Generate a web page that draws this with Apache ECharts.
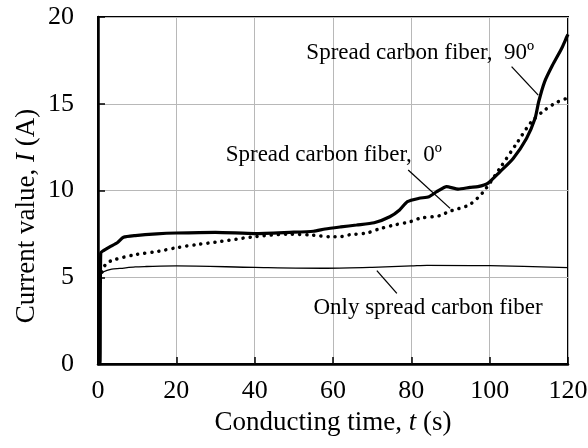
<!DOCTYPE html>
<html>
<head>
<meta charset="utf-8">
<script src="https://cdn.jsdelivr.net/npm/echarts@6/dist/echarts.min.js"></script>
<style>
html,body{margin:0;padding:0;background:#fff;}
#c{width:588px;height:448px;}
</style>
</head>
<body>
<div id="c"></div>
<script>
// ---- data ----
var xTicks = [0, 20, 40, 60, 80, 100, 120];
var yTicks = [0, 5, 10, 15, 20];

var t90 = [0, 0.5, 0.7, 1.5, 3, 5, 6.5, 9.5, 15, 20, 30, 40, 49, 55, 58, 62, 66, 70.5, 74.5, 77, 79, 82, 84.5, 86.5, 89, 92, 95, 97, 99.5, 102.5, 106, 109.4, 111.6, 112.5, 114, 116, 118.4, 119.7, 120];
var i90 = [0, 0, 6.4, 6.55, 6.75, 7.0, 7.3, 7.4, 7.5, 7.55, 7.59, 7.52, 7.59, 7.65, 7.78, 7.9, 8.01, 8.14, 8.49, 8.88, 9.36, 9.55, 9.64, 9.93, 10.22, 10.08, 10.18, 10.22, 10.41, 11.05, 11.85, 13.0, 14.16, 15.1, 16.25, 17.2, 18.2, 18.86, 19.0];

var t0 = [1.0, 1.3, 2.2, 4, 9.5, 15.5, 20, 25.7, 30, 40, 49, 54.6, 59.5, 62, 64.3, 68.6, 72, 75.4, 79.7, 82.2, 87.3, 89.5, 92, 95, 98.4, 102.6, 106.9, 110.7, 114.1, 117.1, 119.7];
var i0 = [5.3, 5.5, 5.8, 6.0, 6.3, 6.5, 6.7, 6.9, 7.02, 7.34, 7.48, 7.43, 7.33, 7.34, 7.45, 7.55, 7.8, 8.0, 8.2, 8.4, 8.55, 8.78, 8.95, 9.2, 9.93, 11.28, 12.72, 13.97, 14.64, 15.08, 15.31];

var tOnly = [0.4, 0.6, 1.45, 3.5, 5.6, 9.5, 12.4, 20, 40, 58.5, 70, 80, 84, 100, 120];
var iOnly = [0, 5.1, 5.32, 5.47, 5.51, 5.6, 5.62, 5.65, 5.57, 5.52, 5.57, 5.65, 5.69, 5.67, 5.55];

// annotations (data units)
var noteTexts = ['Spread carbon fiber,  90\u00ba', 'Spread carbon fiber,  0\u00ba', 'Only spread carbon fiber'];
var noteAnchors = [[53.2, 17.93], [32.6, 12.05], [55.0, 3.23]];
var arrowFrom = [[105.6, 17.14], [79.2, 11.18], [76.3, 4.07]];
var arrowTo = [[112.4, 15.5], [89.9, 8.97], [71.2, 5.38]];

function pairs(xs, ys) { return xs.map(function (x, k) { return [x, ys[k]]; }); }

var FONT = '"Liberation Serif", "Times New Roman", serif';
var chart = echarts.init(document.getElementById('c'), null, {renderer: 'canvas'});

var arrowData = arrowFrom.map(function (f, k) {
  return [{coord: f}, {coord: arrowTo[k]}];
});

var axisCommon = {
  axisLine: {show: true, onZero: false, lineStyle: {color: '#000', width: 2.5}},
  axisTick: {show: true, inside: true, length: 7, lineStyle: {color: '#000', width: 1.5}},
  splitLine: {show: true, lineStyle: {color: '#b8b8b8', width: 1}},
  axisLabel: {color: '#000', fontFamily: FONT, fontSize: 26}
};

var option = {
  animation: false,
  backgroundColor: '#fff',
  grid: {left: 98, right: 20, top: 17, bottom: 84, show: true, borderColor: '#000', borderWidth: 2, containLabel: false, outerBoundsMode: 'none'},
  xAxis: Object.assign({}, axisCommon, {
    type: 'value', min: xTicks[0], max: xTicks[xTicks.length - 1], interval: 20,
    axisLabel: Object.assign({}, axisCommon.axisLabel, {margin: 14}),
    name: '{n|Conducting time, }{i|t}{n| (s)}',
    nameLocation: 'middle', nameGap: 45,
    nameTextStyle: {rich: {
      n: {fontFamily: FONT, fontSize: 27, color: '#000'},
      i: {fontFamily: FONT, fontSize: 27, color: '#000', fontStyle: 'italic'}
    }}
  }),
  yAxis: Object.assign({}, axisCommon, {
    type: 'value', min: yTicks[0], max: yTicks[yTicks.length - 1], interval: 5,
    axisLabel: Object.assign({}, axisCommon.axisLabel, {margin: 24})
  }),
  series: [
    {
      name: 'Only spread carbon fiber', type: 'line', data: pairs(tOnly, iOnly),
      symbol: 'none', smooth: 0.3, lineStyle: {color: '#000', width: 1.3},
      markLine: {
        silent: true, symbol: ['none', 'arrow'], symbolSize: [0, 13],
        label: {show: false},
        lineStyle: {color: '#000', width: 1.3, type: 'solid'},
        data: arrowData
      }
    },
    {
      name: 'Spread carbon fiber, 0º', type: 'line', data: pairs(t0, i0),
      symbol: 'none', smooth: 0.3,
      lineStyle: {color: '#000', width: 3.5, type: [0.1, 7], cap: 'round'}
    },
    {
      name: 'Spread carbon fiber, 90º', type: 'line', data: pairs(t90, i90),
      symbol: 'none', smooth: 0.2, lineStyle: {color: '#000', width: 3.2}
    }
  ]
};
chart.setOption(option);

var gfx = noteTexts.map(function (txt, k) {
  var p = chart.convertToPixel({gridIndex: 0}, noteAnchors[k]);
  return {
    type: 'text', x: p[0], y: p[1], silent: true,
    style: {text: txt, fill: '#000', font: '23px ' + FONT, textAlign: 'left', textVerticalAlign: 'middle'}
  };
});
gfx.push({
  type: 'text', x: 27, y: 216, rotation: Math.PI / 2, silent: true,
  style: {
    text: '{n|Current value, }{i|I}{n| (A)}',
    textAlign: 'center', textVerticalAlign: 'middle',
    rich: {
      n: {fontFamily: FONT, fontSize: 27, fill: '#000'},
      i: {fontFamily: FONT, fontSize: 27, fill: '#000', fontStyle: 'italic'}
    }
  }
});
chart.setOption({graphic: gfx});
</script>
</body>
</html>
